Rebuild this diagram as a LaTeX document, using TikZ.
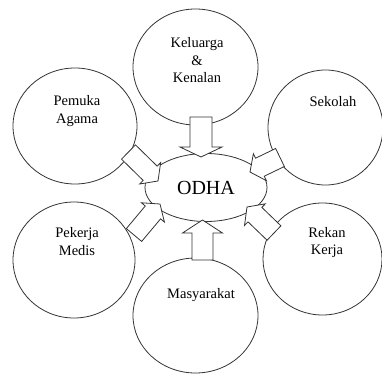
\documentclass[tikz,border=0pt]{standalone}
\usepackage{fontspec}
\setmainfont{Liberation Serif}
\usetikzlibrary{shapes.geometric,calc}
\definecolor{lc}{gray}{0.2}
\begin{document}
\begin{tikzpicture}[x=1pt,y=-1pt,
  bub/.style={ellipse, draw=lc, fill=white, line width=0.8pt, inner sep=0pt},
  lbl/.style={font=\fontsize{14.5pt}{17.5pt}\selectfont, align=center, inner sep=0pt},
  blk/.style n args={3}{draw=lc, fill=white, line width=0.8pt,
    to path={let \p0=($(\tikztotarget)!#3!(\tikztostart)$) in
      -- ($(\tikztostart)!#1!90:(\tikztotarget)$)
      -- ($(\p0)!#1!90:(\tikztotarget)$)
      -- ($(\p0)!#2!90:(\tikztotarget)$)
      -- (\tikztotarget)
      -- ($(\p0)!#2!-90:(\tikztotarget)$)
      -- ($(\p0)!#1!-90:(\tikztotarget)$)
      -- ($(\tikztostart)!#1!-90:(\tikztotarget)$)
      -- cycle}}]
\useasboundingbox (0,0) rectangle (382,374);

% bubbles
\node[bub, minimum width=125pt, minimum height=116pt] (kel) at (195.5,67) {};
\node[bub, minimum width=124pt, minimum height=116pt] (pem) at (75,126) {};
\node[bub, minimum width=115pt, minimum height=115pt] (sek) at (325.5,127.5) {};
\node[bub, minimum width=122pt, minimum height=116pt] (pek) at (74,260) {};
\node[bub, minimum width=119pt, minimum height=112pt] (rek) at (322.5,259) {};
\node[bub, minimum width=125pt, minimum height=115pt] (mas) at (195.5,315.5) {};
\node[bub, minimum width=122pt, minimum height=68pt,
      font=\fontsize{20pt}{24pt}\selectfont] (odha) at (206,187.5) {ODHA};

% labels
\node[lbl] (tkel) at (197,60.5) {Keluarga\\\&\\Kenalan};
\node[lbl] (tpem) at (77,111) {Pemuka\\Agama};
\node[lbl] (tsek) at (333,102) {Sekolah};
\node[lbl] (tpek) at (77,241.5) {Pekerja\\Medis};
\node[lbl] (trek) at (327,242.5) {Rekan\\Kerja};
\node[lbl] (tmas) at (201,295) {Masyarakat};

% arrow end points
\coordinate (a1s) at (201,117);   \coordinate (a1t) at (201,157);
\coordinate (a2s) at (202.5,260); \coordinate (a2t) at (202.5,220);
\coordinate (a3s) at (128.5,152); \coordinate (a3t) at (158,181);
\coordinate (a4s) at (280,157.5); \coordinate (a4t) at (250,172);
\coordinate (a5s) at (134,235);   \coordinate (a5t) at (160,204);
\coordinate (a6s) at (274,233);   \coordinate (a6t) at (247,207);

% block arrows
\draw[blk={11pt}{21pt}{10pt}] (a1s) to (a1t);
\draw[blk={10.5pt}{20pt}{13pt}] (a2s) to (a2t);
\draw[blk={10pt}{15pt}{11pt}] (a3s) to (a3t);
\draw[blk={10pt}{15pt}{11pt}] (a4s) to (a4t);
\draw[blk={10pt}{15pt}{11pt}] (a5s) to (a5t);
\draw[blk={10pt}{15pt}{11pt}] (a6s) to (a6t);
\end{tikzpicture}
\end{document}
